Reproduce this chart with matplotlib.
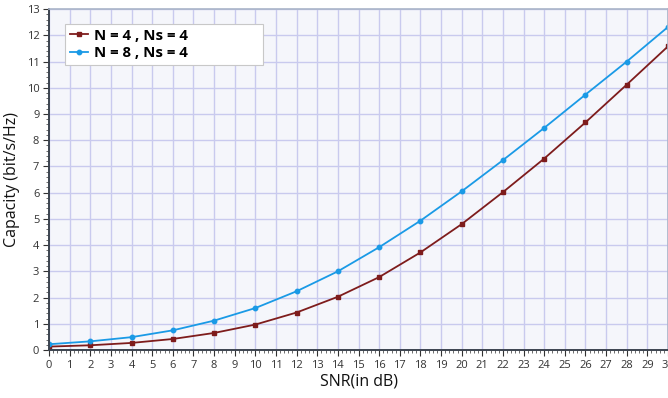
import matplotlib
matplotlib.use("Agg")
import matplotlib.pyplot as plt
from matplotlib.ticker import MultipleLocator

plt.rcParams['font.family'] = ['Open Sans', 'DejaVu Sans']

snr_db = [0, 2, 4, 6, 8, 10, 12, 14, 16, 18, 20, 22, 24, 26, 28, 30]
cap_n4 = [0.13, 0.18, 0.27, 0.42, 0.65, 0.97, 1.43, 2.03, 2.78, 3.72, 4.80, 6.02, 7.30, 8.68, 10.12, 11.58]
cap_n8 = [0.22, 0.33, 0.49, 0.75, 1.12, 1.60, 2.24, 3.00, 3.92, 4.93, 6.05, 7.24, 8.47, 9.74, 11.00, 12.32]
labels = ['N = 4 , Ns = 4', 'N = 8 , Ns = 4']

fig = plt.figure(figsize=(6.68, 3.98), dpi=100)
ax = fig.add_axes([0.0734, 0.1206, 0.9266, 0.8565])
ax.set_facecolor('#f5f6fb')

ax.plot(snr_db, cap_n4, color='#7e1c1c', lw=1.3, marker='s', ms=3.2, label=labels[0])
ax.plot(snr_db, cap_n8, color='#1a9ae6', lw=1.3, marker='o', ms=3.2, label=labels[1])

ax.set_xlim(0, 30)
ax.set_ylim(0, 13)
ax.xaxis.set_major_locator(MultipleLocator(1))
ax.yaxis.set_major_locator(MultipleLocator(1))
ax.xaxis.set_minor_locator(MultipleLocator(0.2))
ax.yaxis.set_minor_locator(MultipleLocator(0.2))
ax.grid(True, which='major', color='#c9caee', lw=1.0)
ax.set_axisbelow(True)

ax.tick_params(axis='both', which='major', labelsize=8, length=4, color='#333333',
               labelcolor='#333333', pad=3)
ax.tick_params(axis='both', which='minor', length=2.5, color='#555555')

for s in ['top', 'right']:
    ax.spines[s].set_color('#a9b4c8')
    ax.spines[s].set_linewidth(1.2)
for s in ['left', 'bottom']:
    ax.spines[s].set_color('#3c4450')
    ax.spines[s].set_linewidth(1.4)

ax.set_xlabel('SNR(in dB)', fontsize=11.5, color='#111111', labelpad=2)
ax.set_ylabel('Capacity (bit/s/Hz)', fontsize=11.5, color='#111111', labelpad=5)

leg = ax.legend(loc='upper left', bbox_to_anchor=(0.026, 0.836, 0.319, 0.12), mode='expand',
                prop={'weight': 'bold', 'size': 10.8}, frameon=True, fancybox=False,
                edgecolor='#c8c8c8', framealpha=1, borderpad=0.3, borderaxespad=0,
                handlelength=1.2, handletextpad=0.4, labelspacing=0.25)
leg.get_frame().set_linewidth(0.8)

fig.savefig('out.png', dpi=100)
